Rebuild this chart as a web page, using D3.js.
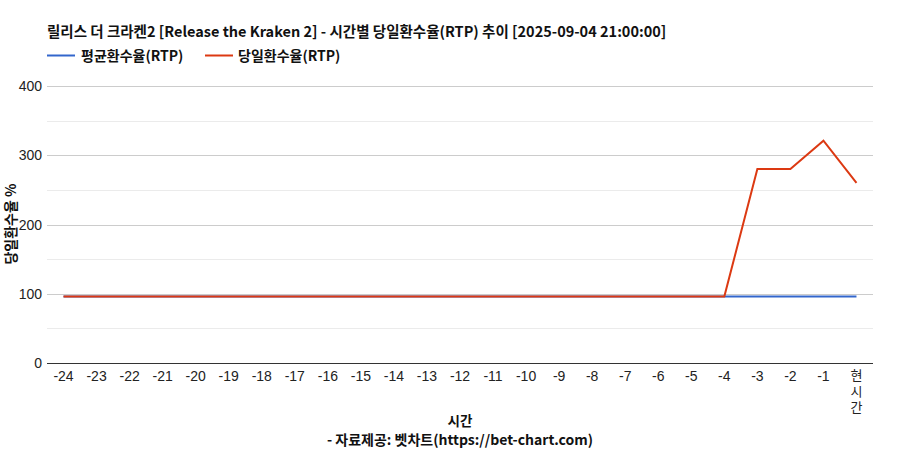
<!DOCTYPE html>
<html><head><meta charset="utf-8">
<script src="https://cdn.jsdelivr.net/npm/d3@7"></script>
<style>body{margin:0;background:#fff}svg{display:block}</style>
</head><body>
<svg id="c" width="919" height="450"></svg>
<script>
const categories = ["-24","-23","-22","-21","-20","-19","-18","-17","-16","-15","-14","-13","-12","-11","-10","-9","-8","-7","-6","-5","-4","-3","-2","-1","현시간"];
const avgRTP = [96,96,96,96,96,96,96,96,96,96,96,96,96,96,96,96,96,96,96,96,96,96,96,96,96];
const dailyRTP = [96,96,96,96,96,96,96,96,96,96,96,96,96,96,96,96,96,96,96,96,96,280,280,321,260];
const yTicks = [0,100,200,300,400];
const minorTicks = [50,150,250,350];
const seriesNames = ["평균환수율(RTP)","당일환수율(RTP)"];
const colors = ["#3366cc","#dc3912"];

const svg = d3.select("#c");
const KR = "'Noto Sans CJK KR','Noto Sans',sans-serif";
const AR = "'Liberation Sans',Arial,sans-serif";
const L=47,R=873,T=86,B=363;
const x = d3.scalePoint().domain(categories).range([L,R]).padding(0.5);
const y = d3.scaleLinear().domain([0,400]).range([B,T]);

svg.append("text").attr("x",47).attr("y",37).attr("font-family",KR).attr("font-weight","bold").attr("font-size",14.5).attr("fill","#111")
  .text("릴리스 더 크라켄2 [Release the Kraken 2] - 시간별 당일환수율(RTP) 추이 [2025-09-04 21:00:00]");

// legend
const lg = [{x:47,tx:81},{x:205,tx:238}];
seriesNames.forEach((n,i)=>{
  svg.append("line").attr("x1",lg[i].x).attr("x2",lg[i].x+28).attr("y1",55.5).attr("y2",55.5).attr("stroke",colors[i]).attr("stroke-width",2);
  svg.append("text").attr("x",lg[i].tx).attr("y",60.5).attr("font-family",KR).attr("font-weight","bold").attr("font-size",14).attr("fill","#111").text(n);
});

// grid
svg.append("g").selectAll("line").data(minorTicks).join("line")
  .attr("x1",L).attr("x2",R).attr("y1",d=>Math.round(y(d))+0.5).attr("y2",d=>Math.round(y(d))+0.5).attr("stroke","#ebebeb");
svg.append("g").selectAll("line").data(yTicks.filter(d=>d>0)).join("line")
  .attr("x1",L).attr("x2",R).attr("y1",d=>Math.round(y(d))+0.5).attr("y2",d=>Math.round(y(d))+0.5).attr("stroke","#cccccc");

// y axis labels
svg.append("g").selectAll("text").data(yTicks).join("text")
  .attr("x",42).attr("y",d=>y(d)+5).attr("text-anchor","end").attr("font-family",AR).attr("font-size",14).attr("fill","#222").text(d=>d);

// lines
const line = d3.line().x((d,i)=>x(categories[i])).y(d=>y(d));
svg.append("path").attr("d",line(avgRTP)).attr("fill","none").attr("stroke",colors[0]).attr("stroke-width",2);
svg.append("path").attr("d",line(dailyRTP)).attr("fill","none").attr("stroke",colors[1]).attr("stroke-width",2);

// baseline
svg.append("line").attr("x1",L).attr("x2",R).attr("y1",B+0.5).attr("y2",B+0.5).attr("stroke","#333");

// x labels
const xl = svg.append("g");
categories.forEach(c=>{
  if(c==="현시간"){
    [...c].forEach((ch,j)=>xl.append("text").attr("x",x(c)).attr("y",380+j*16).attr("text-anchor","middle").attr("font-family",KR).attr("font-size",13).attr("fill","#222").text(ch));
  } else {
    xl.append("text").attr("x",x(c)).attr("y",381).attr("text-anchor","middle").attr("font-family",AR).attr("font-size",14).attr("fill","#222").text(c);
  }
});

// axis titles
svg.append("text").attr("x",460).attr("y",426).attr("text-anchor","middle").attr("font-family",KR).attr("font-weight","bold").attr("font-size",13.5).attr("fill","#111").text("시간");
svg.append("text").attr("x",460).attr("y",445).attr("text-anchor","middle").attr("font-family",KR).attr("font-weight","bold").attr("font-size",14).attr("fill","#111").text("- 자료제공: 벳차트(https://bet-chart.com)");
svg.append("text").attr("transform","translate(16,224) rotate(-90)").attr("text-anchor","middle").attr("font-family",KR).attr("font-weight","bold").attr("font-size",14).attr("fill","#111").text("당일환수율 %");
</script>
</body></html>
